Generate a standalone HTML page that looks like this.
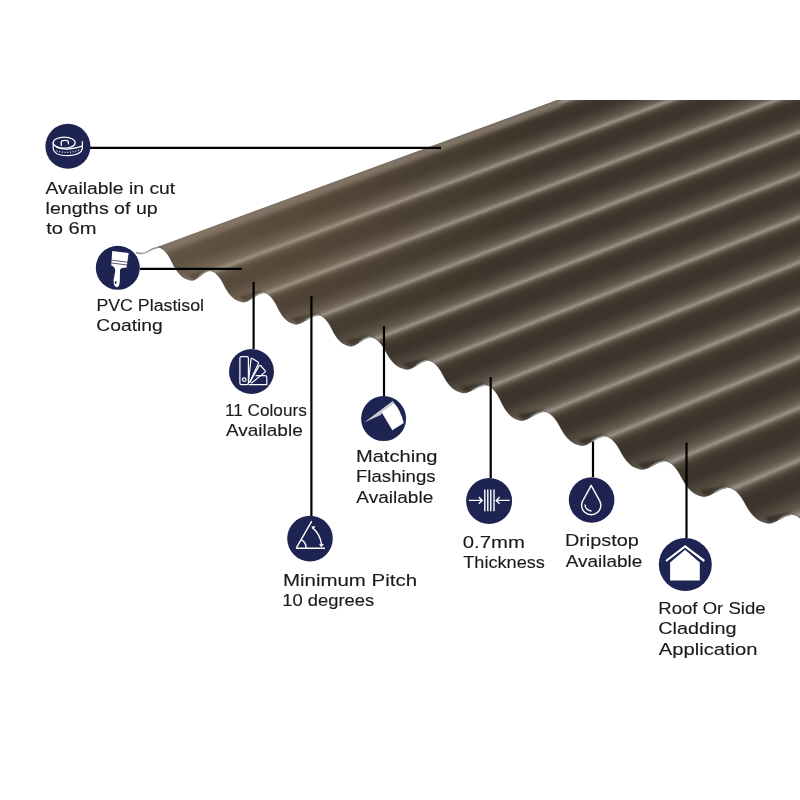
<!DOCTYPE html>
<html><head><meta charset="utf-8"><style>
html,body{margin:0;padding:0;background:#fff;width:800px;height:800px;overflow:hidden;position:relative}
#wrap{position:absolute;left:0;top:0;width:800px;height:800px;overflow:hidden;background:#3b3329}
#tex{position:absolute;left:0;top:0;width:960px;height:1000px;transform-origin:0 0;transform:matrix3d(0.837560734,0.32129766,0,-0.000170205306,1.00614586,-0.332174918,0,0.000123347537,0,0,1,0,-79.1611011,294.133936,0,1);background:repeating-linear-gradient(to right, #9b9387 4.20px, #857d72 6.00px, #696156 8.40px, #524a3f 11.40px, #433b30 16.20px, #3d352b 22.20px, #3d352b 34.20px, #463e34 41.40px, #524a3f 48.60px, #5f574c 54.60px, #6e665b 58.80px, #867e73 61.80px, #9b9387 64.20px)}
svg{position:absolute;left:0;top:0}
text{font-family:"Liberation Sans",sans-serif;font-size:16.2px;fill:#1a1a1a;stroke:#1a1a1a;stroke-width:0.12px}
</style></head><body>
<div id="wrap"><div id="tex"></div></div>
<svg width="800" height="800" viewBox="0 0 800 800">
<defs><filter id="pb" x="-20%" y="-50%" width="140%" height="200%"><feGaussianBlur stdDeviation="1.5"/></filter></defs><g filter="url(#pb)"><polygon points="192.78,280.25 193.73,279.88 194.69,279.53 195.63,279.14 196.54,278.66 197.39,278.07 198.20,277.41 199.02,276.69 199.92,275.93 200.93,275.09 202.00,274.18 203.12,273.29 204.26,272.52 205.44,271.91 206.65,271.41 207.87,270.95 209.09,270.47 208.39,268.56 186.22,274.86" fill="rgba(56,48,40,0.95)"/><polygon points="244.42,301.98 245.50,301.62 246.59,301.28 247.66,300.90 248.70,300.44 249.67,299.87 250.58,299.22 251.52,298.52 252.55,297.79 253.69,296.97 254.91,296.09 256.19,295.23 257.49,294.48 258.82,293.89 260.20,293.40 261.59,292.96 262.98,292.49 262.44,290.52 237.99,296.28" fill="rgba(56,48,40,0.95)"/><polygon points="297.27,324.14 298.44,323.78 299.63,323.45 300.79,323.07 301.92,322.61 302.97,322.05 303.97,321.42 304.98,320.72 306.10,320.00 307.34,319.20 308.67,318.32 310.05,317.47 311.47,316.73 312.91,316.15 314.41,315.67 315.92,315.23 317.43,314.77 316.99,312.77 290.87,318.29" fill="rgba(56,48,40,0.95)"/><polygon points="351.83,346.07 352.87,345.72 353.91,345.39 354.95,345.02 355.94,344.57 356.87,344.01 357.75,343.39 358.65,342.71 359.64,341.99 360.74,341.20 361.91,340.34 363.14,339.50 364.38,338.77 365.67,338.20 366.99,337.73 368.33,337.29 369.66,336.84 369.10,334.88 345.48,340.35" fill="rgba(56,48,40,0.95)"/><polygon points="408.28,369.31 409.37,368.96 410.47,368.63 411.55,368.27 412.60,367.82 413.57,367.27 414.50,366.65 415.44,365.97 416.48,365.26 417.63,364.48 418.87,363.62 420.15,362.79 421.46,362.07 422.81,361.50 424.20,361.03 425.60,360.60 427.00,360.15 426.50,358.17 401.96,363.50" fill="rgba(56,48,40,0.95)"/><polygon points="465.08,392.82 466.23,392.51 467.39,392.22 468.54,391.90 469.64,391.50 470.67,391.02 471.65,390.47 472.65,389.87 473.74,389.24 474.96,388.55 476.26,387.79 477.62,387.06 479.01,386.42 480.43,385.91 481.90,385.50 483.38,385.12 484.86,384.72 484.50,382.71 459.08,386.63" fill="rgba(56,48,40,0.95)"/><polygon points="522.68,420.46 523.89,420.12 525.10,419.79 526.30,419.43 527.45,418.99 528.53,418.44 529.55,417.83 530.59,417.16 531.74,416.46 533.02,415.68 534.38,414.84 535.80,414.01 537.25,413.30 538.74,412.73 540.27,412.27 541.83,411.84 543.37,411.40 542.98,409.39 516.37,414.49" fill="rgba(56,48,40,0.95)"/><polygon points="583.26,445.48 584.46,445.11 585.67,444.77 586.86,444.38 588.02,443.91 589.09,443.33 590.11,442.68 591.15,441.97 592.29,441.22 593.56,440.40 594.92,439.50 596.34,438.62 597.78,437.86 599.26,437.26 600.79,436.76 602.34,436.31 603.88,435.84 603.45,433.84 576.78,439.68" fill="rgba(56,48,40,0.95)"/><polygon points="643.20,469.30 644.42,468.98 645.65,468.67 646.86,468.34 648.03,467.92 649.12,467.41 650.15,466.84 651.21,466.21 652.37,465.56 653.66,464.83 655.04,464.04 656.48,463.27 657.94,462.60 659.45,462.08 661.00,461.64 662.58,461.25 664.14,460.83 663.81,458.81 637.06,463.15" fill="rgba(56,48,40,0.95)"/><polygon points="705.05,496.44 706.34,496.09 707.63,495.76 708.91,495.40 710.14,494.95 711.29,494.40 712.38,493.78 713.49,493.11 714.71,492.40 716.08,491.61 717.53,490.76 719.04,489.93 720.59,489.21 722.18,488.64 723.81,488.17 725.47,487.74 727.12,487.29 726.80,485.26 698.68,490.42" fill="rgba(56,48,40,0.95)"/><polygon points="770.03,523.24 771.26,522.90 772.50,522.58 773.73,522.22 774.92,521.79 776.02,521.25 777.06,520.65 778.13,519.99 779.30,519.30 780.61,518.54 782.00,517.70 783.45,516.89 784.94,516.19 786.46,515.63 788.03,515.18 789.62,514.76 791.20,514.32 790.85,512.30 763.75,517.21" fill="rgba(56,48,40,0.95)"/><polygon points="835.35,550.95 836.59,550.61 837.85,550.28 839.08,549.92 840.28,549.47 841.39,548.93 842.44,548.31 843.52,547.64 844.70,546.94 846.02,546.16 847.43,545.31 848.89,544.49 850.39,543.77 851.93,543.21 853.51,542.74 855.12,542.32 856.71,541.87 856.35,539.85 829.02,544.95" fill="rgba(56,48,40,0.95)"/></g><defs><radialGradient id="wg" gradientUnits="userSpaceOnUse" cx="0" cy="0" r="1" gradientTransform="translate(180 250) rotate(-21) scale(380 200)"><stop offset="0" stop-color="#a58769" stop-opacity="0.36"/><stop offset="1" stop-color="#a58769" stop-opacity="0"/></radialGradient></defs><rect x="0" y="0" width="800" height="800" fill="url(#wg)"/>
<g filter="url(#pb)"><polygon points="150,251 560,100 560,107 150,258" fill="rgba(120,107,94,0.75)"/></g>
<path fill="#fff" fill-rule="evenodd" d="M-10,-10 H810 V810 H-10 Z M157.00,247.00 L157.00,247.00 L157.97,247.21 L158.94,247.40 L159.90,247.64 L160.87,248.03 L161.84,248.58 L162.81,249.25 L163.77,250.04 L164.74,250.96 L165.73,252.04 L166.74,253.26 L167.71,254.56 L168.61,255.85 L169.41,257.12 L170.14,258.41 L170.83,259.72 L171.54,261.06 L172.23,262.42 L172.90,263.81 L173.59,265.22 L174.37,266.64 L175.24,268.10 L176.18,269.60 L177.18,271.08 L178.24,272.46 L179.38,273.75 L180.58,275.00 L181.84,276.14 L183.15,277.13 L184.57,277.98 L186.09,278.70 L187.58,279.28 L188.91,279.74 L190.01,280.06 L190.97,280.26 L191.86,280.32 L192.78,280.25 L193.74,280.03 L194.69,279.66 L195.63,279.19 L196.54,278.66 L197.39,278.07 L198.20,277.41 L199.02,276.69 L199.92,275.93 L200.93,275.09 L202.00,274.18 L203.12,273.29 L204.26,272.52 L205.44,271.91 L206.65,271.41 L207.87,270.95 L209.09,270.47 L210.05,270.67 L211.00,270.84 L211.96,271.07 L212.91,271.44 L213.87,271.97 L214.82,272.60 L215.78,273.35 L216.73,274.22 L217.71,275.24 L218.70,276.41 L219.67,277.64 L220.56,278.86 L221.34,280.06 L222.06,281.29 L222.75,282.53 L223.44,283.79 L224.13,285.08 L224.79,286.40 L225.48,287.73 L226.25,289.08 L227.11,290.47 L228.03,291.89 L229.02,293.29 L230.07,294.59 L231.19,295.82 L232.37,297.00 L233.61,298.08 L234.91,299.03 L236.31,299.83 L237.82,300.51 L239.29,301.07 L240.60,301.50 L241.67,301.81 L242.60,301.99 L243.48,302.05 L244.42,301.98 L245.47,301.76 L246.56,301.40 L247.65,300.95 L248.70,300.44 L249.67,299.87 L250.58,299.22 L251.52,298.52 L252.55,297.79 L253.69,296.97 L254.91,296.09 L256.19,295.23 L257.49,294.48 L258.82,293.89 L260.20,293.40 L261.59,292.96 L262.98,292.49 L263.91,292.69 L264.83,292.87 L265.76,293.10 L266.69,293.47 L267.62,294.00 L268.54,294.63 L269.47,295.39 L270.40,296.26 L271.35,297.28 L272.31,298.45 L273.24,299.69 L274.11,300.92 L274.87,302.13 L275.57,303.35 L276.24,304.60 L276.91,305.87 L277.57,307.17 L278.21,308.49 L278.88,309.83 L279.63,311.18 L280.47,312.58 L281.36,314.01 L282.32,315.41 L283.34,316.72 L284.43,317.96 L285.58,319.14 L286.78,320.22 L288.04,321.17 L289.40,321.98 L290.86,322.66 L292.29,323.22 L293.56,323.66 L294.59,323.96 L295.47,324.15 L296.32,324.21 L297.27,324.14 L298.38,323.93 L299.57,323.57 L300.77,323.12 L301.92,322.61 L302.97,322.05 L303.97,321.42 L304.98,320.72 L306.10,320.00 L307.34,319.20 L308.67,318.32 L310.05,317.47 L311.47,316.73 L312.91,316.15 L314.41,315.67 L315.92,315.23 L317.43,314.77 L318.36,314.97 L319.29,315.14 L320.22,315.37 L321.15,315.74 L322.08,316.26 L323.01,316.89 L323.94,317.64 L324.87,318.50 L325.82,319.51 L326.79,320.67 L327.73,321.89 L328.59,323.10 L329.36,324.30 L330.06,325.51 L330.73,326.75 L331.40,328.00 L332.07,329.29 L332.71,330.59 L333.38,331.92 L334.13,333.26 L334.97,334.64 L335.87,336.05 L336.83,337.44 L337.86,338.73 L338.94,339.96 L340.10,341.12 L341.31,342.20 L342.57,343.14 L343.94,343.93 L345.40,344.61 L346.83,345.16 L348.11,345.59 L349.16,345.90 L350.06,346.08 L350.91,346.14 L351.83,346.07 L352.84,345.86 L353.89,345.51 L354.94,345.06 L355.94,344.57 L356.87,344.01 L357.75,343.39 L358.65,342.71 L359.64,341.99 L360.74,341.20 L361.91,340.34 L363.14,339.50 L364.38,338.77 L365.67,338.20 L366.99,337.73 L368.33,337.29 L369.66,336.84 L370.70,337.05 L371.75,337.23 L372.79,337.46 L373.84,337.84 L374.88,338.38 L375.93,339.04 L376.97,339.81 L378.02,340.71 L379.08,341.76 L380.17,342.96 L381.22,344.22 L382.19,345.49 L383.06,346.73 L383.84,347.99 L384.59,349.27 L385.35,350.57 L386.10,351.90 L386.82,353.26 L387.57,354.63 L388.41,356.02 L389.35,357.45 L390.36,358.91 L391.44,360.35 L392.59,361.70 L393.81,362.97 L395.11,364.18 L396.47,365.29 L397.88,366.27 L399.42,367.09 L401.06,367.79 L402.67,368.37 L404.10,368.81 L405.29,369.13 L406.31,369.31 L407.27,369.37 L408.28,369.31 L409.36,369.10 L410.46,368.76 L411.55,368.31 L412.60,367.82 L413.57,367.27 L414.50,366.65 L415.44,365.97 L416.48,365.26 L417.63,364.48 L418.87,363.62 L420.15,362.79 L421.46,362.07 L422.81,361.50 L424.20,361.03 L425.60,360.60 L427.00,360.15 L428.03,360.36 L429.06,360.54 L430.09,360.78 L431.12,361.16 L432.15,361.70 L433.18,362.36 L434.21,363.14 L435.24,364.04 L436.29,365.10 L437.36,366.30 L438.40,367.58 L439.36,368.85 L440.21,370.10 L440.98,371.36 L441.72,372.65 L442.47,373.96 L443.21,375.30 L443.92,376.67 L444.66,378.05 L445.49,379.45 L446.42,380.88 L447.41,382.36 L448.48,383.81 L449.61,385.16 L450.82,386.44 L452.09,387.66 L453.43,388.78 L454.83,389.76 L456.34,390.59 L457.96,391.29 L459.55,391.87 L460.96,392.32 L462.12,392.63 L463.12,392.81 L464.07,392.87 L465.08,392.82 L466.20,392.64 L467.36,392.33 L468.53,391.94 L469.64,391.50 L470.67,391.02 L471.65,390.47 L472.65,389.87 L473.74,389.24 L474.96,388.55 L476.26,387.79 L477.62,387.06 L479.01,386.42 L480.43,385.91 L481.90,385.50 L483.38,385.12 L484.86,384.72 L485.88,384.95 L486.91,385.15 L487.93,385.41 L488.95,385.83 L489.97,386.42 L491.00,387.14 L492.02,387.99 L493.04,388.98 L494.09,390.13 L495.15,391.45 L496.18,392.85 L497.13,394.24 L497.98,395.60 L498.75,396.99 L499.48,398.40 L500.22,399.83 L500.96,401.30 L501.66,402.79 L502.40,404.30 L503.22,405.83 L504.15,407.40 L505.13,409.02 L506.19,410.60 L507.32,412.08 L508.51,413.48 L509.78,414.81 L511.11,416.04 L512.50,417.11 L514.00,418.02 L515.61,418.79 L517.19,419.42 L518.59,419.91 L519.74,420.26 L520.72,420.45 L521.66,420.52 L522.68,420.46 L523.84,420.26 L525.06,419.91 L526.28,419.48 L527.45,418.99 L528.53,418.44 L529.55,417.83 L530.59,417.16 L531.74,416.46 L533.02,415.68 L534.38,414.84 L535.80,414.01 L537.25,413.30 L538.74,412.73 L540.27,412.27 L541.83,411.84 L543.37,411.40 L544.45,411.62 L545.53,411.81 L546.61,412.05 L547.69,412.45 L548.76,413.02 L549.84,413.71 L550.92,414.52 L552.00,415.46 L553.10,416.56 L554.22,417.82 L555.31,419.15 L556.32,420.47 L557.21,421.78 L558.02,423.10 L558.79,424.44 L559.58,425.81 L560.35,427.21 L561.09,428.63 L561.87,430.07 L562.74,431.53 L563.71,433.03 L564.75,434.57 L565.87,436.08 L567.05,437.49 L568.32,438.82 L569.66,440.09 L571.06,441.26 L572.52,442.28 L574.11,443.15 L575.80,443.89 L577.46,444.49 L578.94,444.96 L580.16,445.29 L581.21,445.48 L582.20,445.55 L583.26,445.48 L584.43,445.26 L585.64,444.90 L586.85,444.43 L588.02,443.91 L589.09,443.33 L590.11,442.68 L591.15,441.97 L592.29,441.22 L593.56,440.40 L594.92,439.50 L596.34,438.62 L597.78,437.86 L599.26,437.26 L600.79,436.76 L602.34,436.31 L603.88,435.84 L604.94,436.05 L606.01,436.24 L607.07,436.48 L608.13,436.88 L609.20,437.43 L610.26,438.11 L611.32,438.90 L612.39,439.82 L613.47,440.91 L614.58,442.14 L615.65,443.45 L616.64,444.75 L617.52,446.03 L618.32,447.32 L619.08,448.64 L619.85,449.99 L620.61,451.36 L621.35,452.76 L622.12,454.17 L622.97,455.60 L623.93,457.08 L624.96,458.59 L626.06,460.07 L627.23,461.46 L628.47,462.76 L629.79,464.01 L631.17,465.16 L632.61,466.16 L634.18,467.02 L635.85,467.74 L637.49,468.33 L638.95,468.79 L640.14,469.11 L641.17,469.29 L642.14,469.35 L643.20,469.30 L644.38,469.11 L645.61,468.79 L646.85,468.38 L648.03,467.92 L649.12,467.41 L650.15,466.84 L651.21,466.21 L652.37,465.56 L653.66,464.83 L655.04,464.04 L656.48,463.27 L657.94,462.60 L659.45,462.08 L661.00,461.64 L662.58,461.25 L664.14,460.83 L665.25,461.06 L666.35,461.25 L667.46,461.51 L668.57,461.93 L669.67,462.52 L670.78,463.24 L671.88,464.09 L672.99,465.07 L674.12,466.22 L675.27,467.54 L676.39,468.93 L677.42,470.31 L678.33,471.67 L679.16,473.05 L679.96,474.46 L680.76,475.89 L681.55,477.35 L682.31,478.83 L683.11,480.34 L684.00,481.86 L685.00,483.43 L686.07,485.04 L687.21,486.62 L688.43,488.09 L689.73,489.48 L691.10,490.81 L692.54,492.03 L694.04,493.10 L695.66,494.01 L697.40,494.78 L699.11,495.41 L700.62,495.89 L701.87,496.24 L702.93,496.44 L703.95,496.50 L705.05,496.44 L706.29,496.24 L707.59,495.89 L708.89,495.45 L710.14,494.95 L711.29,494.40 L712.38,493.78 L713.49,493.11 L714.71,492.40 L716.08,491.61 L717.53,490.76 L719.04,489.93 L720.59,489.21 L722.18,488.64 L723.81,488.17 L725.47,487.74 L727.12,487.29 L728.28,487.52 L729.44,487.72 L730.60,487.98 L731.76,488.40 L732.92,489.00 L734.08,489.73 L735.24,490.58 L736.40,491.57 L737.59,492.74 L738.80,494.06 L739.96,495.47 L741.05,496.86 L742.00,498.24 L742.88,499.63 L743.71,501.05 L744.55,502.49 L745.38,503.96 L746.18,505.47 L747.02,506.99 L747.96,508.52 L749.00,510.11 L750.12,511.73 L751.32,513.32 L752.60,514.81 L753.96,516.22 L755.40,517.56 L756.91,518.79 L758.48,519.87 L760.19,520.79 L762.01,521.56 L763.80,522.20 L765.39,522.69 L766.70,523.03 L767.84,523.23 L768.91,523.30 L770.03,523.24 L771.25,523.04 L772.49,522.70 L773.72,522.27 L774.92,521.79 L776.02,521.25 L777.06,520.65 L778.13,519.99 L779.30,519.30 L780.61,518.54 L782.00,517.70 L783.45,516.89 L784.94,516.19 L786.46,515.63 L788.03,515.18 L789.62,514.76 L791.20,514.32 L792.39,514.55 L793.59,514.76 L794.78,515.02 L795.98,515.45 L797.17,516.06 L798.36,516.80 L799.56,517.67 L800.75,518.68 L801.97,519.87 L803.21,521.22 L804.42,522.65 L805.53,524.07 L806.51,525.47 L807.41,526.89 L808.27,528.34 L809.14,529.81 L809.99,531.31 L810.81,532.84 L811.68,534.39 L812.64,535.95 L813.71,537.57 L814.87,539.22 L816.10,540.84 L817.41,542.36 L818.81,543.79 L820.29,545.16 L821.85,546.42 L823.46,547.52 L825.22,548.45 L827.10,549.24 L828.94,549.89 L830.57,550.39 L831.93,550.74 L833.10,550.94 L834.20,551.01 L835.35,550.95 L836.58,550.75 L837.84,550.40 L839.08,549.96 L840.28,549.47 L841.39,548.93 L842.44,548.31 L843.52,547.64 L844.70,546.94 L845.00,566.94 L845.00,100.00 L557.00,100.00 Z"/>
<path d="M157.00,247.00 L157.97,247.21 L158.94,247.40 L159.90,247.64 L160.87,248.03 L161.84,248.58 L162.81,249.25 L163.77,250.04 L164.74,250.96 L165.73,252.04 L166.74,253.26 L167.71,254.56 L168.61,255.85 L169.41,257.12 L170.14,258.41 L170.83,259.72 L171.54,261.06 L172.23,262.42 L172.90,263.81 L173.59,265.22 L174.37,266.64 L175.24,268.10 L176.18,269.60 L177.18,271.08 L178.24,272.46 L179.38,273.75 L180.58,275.00 L181.84,276.14 L183.15,277.13 L184.57,277.98 L186.09,278.70 L187.58,279.28 L188.91,279.74 L190.01,280.06 L190.97,280.26 L191.86,280.32 L192.78,280.25 L193.74,280.03 L194.69,279.66 L195.63,279.19 L196.54,278.66 L197.39,278.07 L198.20,277.41 L199.02,276.69 L199.92,275.93 L200.93,275.09 L202.00,274.18 L203.12,273.29 L204.26,272.52 L205.44,271.91 L206.65,271.41 L207.87,270.95 L209.09,270.47 L210.05,270.67 L211.00,270.84 L211.96,271.07 L212.91,271.44 L213.87,271.97 L214.82,272.60 L215.78,273.35 L216.73,274.22 L217.71,275.24 L218.70,276.41 L219.67,277.64 L220.56,278.86 L221.34,280.06 L222.06,281.29 L222.75,282.53 L223.44,283.79 L224.13,285.08 L224.79,286.40 L225.48,287.73 L226.25,289.08 L227.11,290.47 L228.03,291.89 L229.02,293.29 L230.07,294.59 L231.19,295.82 L232.37,297.00 L233.61,298.08 L234.91,299.03 L236.31,299.83 L237.82,300.51 L239.29,301.07 L240.60,301.50 L241.67,301.81 L242.60,301.99 L243.48,302.05 L244.42,301.98 L245.47,301.76 L246.56,301.40 L247.65,300.95 L248.70,300.44 L249.67,299.87 L250.58,299.22 L251.52,298.52 L252.55,297.79 L253.69,296.97 L254.91,296.09 L256.19,295.23 L257.49,294.48 L258.82,293.89 L260.20,293.40 L261.59,292.96 L262.98,292.49 L263.91,292.69 L264.83,292.87 L265.76,293.10 L266.69,293.47 L267.62,294.00 L268.54,294.63 L269.47,295.39 L270.40,296.26 L271.35,297.28 L272.31,298.45 L273.24,299.69 L274.11,300.92 L274.87,302.13 L275.57,303.35 L276.24,304.60 L276.91,305.87 L277.57,307.17 L278.21,308.49 L278.88,309.83 L279.63,311.18 L280.47,312.58 L281.36,314.01 L282.32,315.41 L283.34,316.72 L284.43,317.96 L285.58,319.14 L286.78,320.22 L288.04,321.17 L289.40,321.98 L290.86,322.66 L292.29,323.22 L293.56,323.66 L294.59,323.96 L295.47,324.15 L296.32,324.21 L297.27,324.14 L298.38,323.93 L299.57,323.57 L300.77,323.12 L301.92,322.61 L302.97,322.05 L303.97,321.42 L304.98,320.72 L306.10,320.00 L307.34,319.20 L308.67,318.32 L310.05,317.47 L311.47,316.73 L312.91,316.15 L314.41,315.67 L315.92,315.23 L317.43,314.77 L318.36,314.97 L319.29,315.14 L320.22,315.37 L321.15,315.74 L322.08,316.26 L323.01,316.89 L323.94,317.64 L324.87,318.50 L325.82,319.51 L326.79,320.67 L327.73,321.89 L328.59,323.10 L329.36,324.30 L330.06,325.51 L330.73,326.75 L331.40,328.00 L332.07,329.29 L332.71,330.59 L333.38,331.92 L334.13,333.26 L334.97,334.64 L335.87,336.05 L336.83,337.44 L337.86,338.73 L338.94,339.96 L340.10,341.12 L341.31,342.20 L342.57,343.14 L343.94,343.93 L345.40,344.61 L346.83,345.16 L348.11,345.59 L349.16,345.90 L350.06,346.08 L350.91,346.14 L351.83,346.07 L352.84,345.86 L353.89,345.51 L354.94,345.06 L355.94,344.57 L356.87,344.01 L357.75,343.39 L358.65,342.71 L359.64,341.99 L360.74,341.20 L361.91,340.34 L363.14,339.50 L364.38,338.77 L365.67,338.20 L366.99,337.73 L368.33,337.29 L369.66,336.84 L370.70,337.05 L371.75,337.23 L372.79,337.46 L373.84,337.84 L374.88,338.38 L375.93,339.04 L376.97,339.81 L378.02,340.71 L379.08,341.76 L380.17,342.96 L381.22,344.22 L382.19,345.49 L383.06,346.73 L383.84,347.99 L384.59,349.27 L385.35,350.57 L386.10,351.90 L386.82,353.26 L387.57,354.63 L388.41,356.02 L389.35,357.45 L390.36,358.91 L391.44,360.35 L392.59,361.70 L393.81,362.97 L395.11,364.18 L396.47,365.29 L397.88,366.27 L399.42,367.09 L401.06,367.79 L402.67,368.37 L404.10,368.81 L405.29,369.13 L406.31,369.31 L407.27,369.37 L408.28,369.31 L409.36,369.10 L410.46,368.76 L411.55,368.31 L412.60,367.82 L413.57,367.27 L414.50,366.65 L415.44,365.97 L416.48,365.26 L417.63,364.48 L418.87,363.62 L420.15,362.79 L421.46,362.07 L422.81,361.50 L424.20,361.03 L425.60,360.60 L427.00,360.15 L428.03,360.36 L429.06,360.54 L430.09,360.78 L431.12,361.16 L432.15,361.70 L433.18,362.36 L434.21,363.14 L435.24,364.04 L436.29,365.10 L437.36,366.30 L438.40,367.58 L439.36,368.85 L440.21,370.10 L440.98,371.36 L441.72,372.65 L442.47,373.96 L443.21,375.30 L443.92,376.67 L444.66,378.05 L445.49,379.45 L446.42,380.88 L447.41,382.36 L448.48,383.81 L449.61,385.16 L450.82,386.44 L452.09,387.66 L453.43,388.78 L454.83,389.76 L456.34,390.59 L457.96,391.29 L459.55,391.87 L460.96,392.32 L462.12,392.63 L463.12,392.81 L464.07,392.87 L465.08,392.82 L466.20,392.64 L467.36,392.33 L468.53,391.94 L469.64,391.50 L470.67,391.02 L471.65,390.47 L472.65,389.87 L473.74,389.24 L474.96,388.55 L476.26,387.79 L477.62,387.06 L479.01,386.42 L480.43,385.91 L481.90,385.50 L483.38,385.12 L484.86,384.72 L485.88,384.95 L486.91,385.15 L487.93,385.41 L488.95,385.83 L489.97,386.42 L491.00,387.14 L492.02,387.99 L493.04,388.98 L494.09,390.13 L495.15,391.45 L496.18,392.85 L497.13,394.24 L497.98,395.60 L498.75,396.99 L499.48,398.40 L500.22,399.83 L500.96,401.30 L501.66,402.79 L502.40,404.30 L503.22,405.83 L504.15,407.40 L505.13,409.02 L506.19,410.60 L507.32,412.08 L508.51,413.48 L509.78,414.81 L511.11,416.04 L512.50,417.11 L514.00,418.02 L515.61,418.79 L517.19,419.42 L518.59,419.91 L519.74,420.26 L520.72,420.45 L521.66,420.52 L522.68,420.46 L523.84,420.26 L525.06,419.91 L526.28,419.48 L527.45,418.99 L528.53,418.44 L529.55,417.83 L530.59,417.16 L531.74,416.46 L533.02,415.68 L534.38,414.84 L535.80,414.01 L537.25,413.30 L538.74,412.73 L540.27,412.27 L541.83,411.84 L543.37,411.40 L544.45,411.62 L545.53,411.81 L546.61,412.05 L547.69,412.45 L548.76,413.02 L549.84,413.71 L550.92,414.52 L552.00,415.46 L553.10,416.56 L554.22,417.82 L555.31,419.15 L556.32,420.47 L557.21,421.78 L558.02,423.10 L558.79,424.44 L559.58,425.81 L560.35,427.21 L561.09,428.63 L561.87,430.07 L562.74,431.53 L563.71,433.03 L564.75,434.57 L565.87,436.08 L567.05,437.49 L568.32,438.82 L569.66,440.09 L571.06,441.26 L572.52,442.28 L574.11,443.15 L575.80,443.89 L577.46,444.49 L578.94,444.96 L580.16,445.29 L581.21,445.48 L582.20,445.55 L583.26,445.48 L584.43,445.26 L585.64,444.90 L586.85,444.43 L588.02,443.91 L589.09,443.33 L590.11,442.68 L591.15,441.97 L592.29,441.22 L593.56,440.40 L594.92,439.50 L596.34,438.62 L597.78,437.86 L599.26,437.26 L600.79,436.76 L602.34,436.31 L603.88,435.84 L604.94,436.05 L606.01,436.24 L607.07,436.48 L608.13,436.88 L609.20,437.43 L610.26,438.11 L611.32,438.90 L612.39,439.82 L613.47,440.91 L614.58,442.14 L615.65,443.45 L616.64,444.75 L617.52,446.03 L618.32,447.32 L619.08,448.64 L619.85,449.99 L620.61,451.36 L621.35,452.76 L622.12,454.17 L622.97,455.60 L623.93,457.08 L624.96,458.59 L626.06,460.07 L627.23,461.46 L628.47,462.76 L629.79,464.01 L631.17,465.16 L632.61,466.16 L634.18,467.02 L635.85,467.74 L637.49,468.33 L638.95,468.79 L640.14,469.11 L641.17,469.29 L642.14,469.35 L643.20,469.30 L644.38,469.11 L645.61,468.79 L646.85,468.38 L648.03,467.92 L649.12,467.41 L650.15,466.84 L651.21,466.21 L652.37,465.56 L653.66,464.83 L655.04,464.04 L656.48,463.27 L657.94,462.60 L659.45,462.08 L661.00,461.64 L662.58,461.25 L664.14,460.83 L665.25,461.06 L666.35,461.25 L667.46,461.51 L668.57,461.93 L669.67,462.52 L670.78,463.24 L671.88,464.09 L672.99,465.07 L674.12,466.22 L675.27,467.54 L676.39,468.93 L677.42,470.31 L678.33,471.67 L679.16,473.05 L679.96,474.46 L680.76,475.89 L681.55,477.35 L682.31,478.83 L683.11,480.34 L684.00,481.86 L685.00,483.43 L686.07,485.04 L687.21,486.62 L688.43,488.09 L689.73,489.48 L691.10,490.81 L692.54,492.03 L694.04,493.10 L695.66,494.01 L697.40,494.78 L699.11,495.41 L700.62,495.89 L701.87,496.24 L702.93,496.44 L703.95,496.50 L705.05,496.44 L706.29,496.24 L707.59,495.89 L708.89,495.45 L710.14,494.95 L711.29,494.40 L712.38,493.78 L713.49,493.11 L714.71,492.40 L716.08,491.61 L717.53,490.76 L719.04,489.93 L720.59,489.21 L722.18,488.64 L723.81,488.17 L725.47,487.74 L727.12,487.29 L728.28,487.52 L729.44,487.72 L730.60,487.98 L731.76,488.40 L732.92,489.00 L734.08,489.73 L735.24,490.58 L736.40,491.57 L737.59,492.74 L738.80,494.06 L739.96,495.47 L741.05,496.86 L742.00,498.24 L742.88,499.63 L743.71,501.05 L744.55,502.49 L745.38,503.96 L746.18,505.47 L747.02,506.99 L747.96,508.52 L749.00,510.11 L750.12,511.73 L751.32,513.32 L752.60,514.81 L753.96,516.22 L755.40,517.56 L756.91,518.79 L758.48,519.87 L760.19,520.79 L762.01,521.56 L763.80,522.20 L765.39,522.69 L766.70,523.03 L767.84,523.23 L768.91,523.30 L770.03,523.24 L771.25,523.04 L772.49,522.70 L773.72,522.27 L774.92,521.79 L776.02,521.25 L777.06,520.65 L778.13,519.99 L779.30,519.30 L780.61,518.54 L782.00,517.70 L783.45,516.89 L784.94,516.19 L786.46,515.63 L788.03,515.18 L789.62,514.76 L791.20,514.32 L792.39,514.55 L793.59,514.76 L794.78,515.02 L795.98,515.45 L797.17,516.06 L798.36,516.80 L799.56,517.67 L800.75,518.68 L801.97,519.87 L803.21,521.22 L804.42,522.65 L805.53,524.07 L806.51,525.47 L807.41,526.89 L808.27,528.34 L809.14,529.81 L809.99,531.31 L810.81,532.84 L811.68,534.39 L812.64,535.95 L813.71,537.57 L814.87,539.22 L816.10,540.84 L817.41,542.36 L818.81,543.79 L820.29,545.16 L821.85,546.42 L823.46,547.52 L825.22,548.45 L827.10,549.24 L828.94,549.89 L830.57,550.39 L831.93,550.74 L833.10,550.94 L834.20,551.01 L835.35,550.95 L836.58,550.75 L837.84,550.40 L839.08,549.96 L840.28,549.47 L841.39,548.93 L842.44,548.31 L843.52,547.64 L844.70,546.94" fill="none" stroke="rgba(40,34,28,0.55)" stroke-width="0.9"/>
<path d="M199.92,275.93 L200.93,275.09 L202.00,274.18 L203.12,273.29 L204.26,272.52 L205.44,271.91 L206.65,271.41 L207.87,270.95 L209.09,270.47 M252.55,297.79 L253.69,296.97 L254.91,296.09 L256.19,295.23 L257.49,294.48 L258.82,293.89 L260.20,293.40 L261.59,292.96 L262.98,292.49 M306.10,320.00 L307.34,319.20 L308.67,318.32 L310.05,317.47 L311.47,316.73 L312.91,316.15 L314.41,315.67 L315.92,315.23 L317.43,314.77 M359.64,341.99 L360.74,341.20 L361.91,340.34 L363.14,339.50 L364.38,338.77 L365.67,338.20 L366.99,337.73 L368.33,337.29 L369.66,336.84 M416.48,365.26 L417.63,364.48 L418.87,363.62 L420.15,362.79 L421.46,362.07 L422.81,361.50 L424.20,361.03 L425.60,360.60 L427.00,360.15 M473.74,389.24 L474.96,388.55 L476.26,387.79 L477.62,387.06 L479.01,386.42 L480.43,385.91 L481.90,385.50 L483.38,385.12 L484.86,384.72 M531.74,416.46 L533.02,415.68 L534.38,414.84 L535.80,414.01 L537.25,413.30 L538.74,412.73 L540.27,412.27 L541.83,411.84 L543.37,411.40 M592.29,441.22 L593.56,440.40 L594.92,439.50 L596.34,438.62 L597.78,437.86 L599.26,437.26 L600.79,436.76 L602.34,436.31 L603.88,435.84 M652.37,465.56 L653.66,464.83 L655.04,464.04 L656.48,463.27 L657.94,462.60 L659.45,462.08 L661.00,461.64 L662.58,461.25 L664.14,460.83 M714.71,492.40 L716.08,491.61 L717.53,490.76 L719.04,489.93 L720.59,489.21 L722.18,488.64 L723.81,488.17 L725.47,487.74 L727.12,487.29 M779.30,519.30 L780.61,518.54 L782.00,517.70 L783.45,516.89 L784.94,516.19 L786.46,515.63 L788.03,515.18 L789.62,514.76 L791.20,514.32 M844.70,546.94 L846.02,546.16 L847.43,545.31 L848.89,544.49 L850.39,543.77 L851.93,543.21 L853.51,542.74 L855.12,542.32 L856.71,541.87" fill="none" stroke="#8f918d" stroke-width="1.5" stroke-linecap="round"/>
<path d="M136 252.5 Q142 255 148 251.5 Q153 248 157.5 247.5" fill="none" stroke="#8f918d" stroke-width="1.4"/>
<g stroke="#000" stroke-width="2.2" fill="none"><path d="M90 147.9 H441"/><path d="M140 268.9 H242"/><path d="M253.6 282 V349"/><path d="M311.4 296 V516"/><path d="M384 326 V396"/><path d="M490.7 377 V478"/><path d="M593 441.5 V477"/><path d="M686.5 442.6 V538"/></g>
<circle cx="67.9" cy="146.3" r="22.5" fill="#1d2452"/><g fill="none" stroke="#fff" stroke-width="1.25" stroke-linejoin="round" stroke-linecap="round"><ellipse cx="64.2" cy="142.7" rx="11" ry="5.5"/><path d="M53.2 142.7 V148.2 Q54 155.6 67.8 155.6 Q81.6 155.2 82.4 148 V141.6"/><path d="M56.5 147.1 Q66 151.4 82.2 146.2"/><path d="M61.3 145.4 V142 Q61.3 140.4 64.8 140.4 Q68.4 140.4 68.4 142 V143.8"/></g><path d="M57 150.2 v1.3 M59.7 151 v1.3 M62.4 151.5 v1.3 M65.1 151.7 v1.3 M67.8 151.7 v1.3 M70.5 151.5 v1.3 M73.2 151.1 v1.3 M75.9 150.5 v1.3 M78.6 149.6 v1.3" stroke="#fff" stroke-width="0.9"/><circle cx="117.8" cy="267.8" r="22" fill="#1d2452"/><path fill="#fff" d="M112.2 250.9 L128.7 252.9 L126.6 267.6 Q121 267.6 120 270 L119.8 281 Q119.5 287.5 116.5 287.2 Q113.3 286.5 113.6 280 L115.3 271 Q115 266.2 111.3 265.4 Z"/><path d="M111.9 260.2 L127.6 262.2 M111.6 263 L127.2 265" stroke="#1d2452" stroke-width="0.75"/><ellipse cx="115.7" cy="282.6" rx="0.9" ry="1.4" fill="#1d2452"/><circle cx="251.5" cy="371.5" r="22.5" fill="#1d2452"/><g fill="none" stroke="#fff" stroke-width="1.2" stroke-linejoin="round"><rect x="239.9" y="356.6" width="8.5" height="28.1" rx="1.6"/><circle cx="244.2" cy="379.6" r="1.8"/><path d="M248.6 380.9 L251.0 358.9 Q251.5 358.0 252.4 358.5 L258.0 362.1 Q258.9 362.8 258.4 363.6 L249.5 382.7"/><path d="M249.7 382.4 L259.1 365.9 Q259.7 365.0 260.6 365.5 L265.0 370.6 Q265.7 371.5 265.0 372.1 L251.2 383.3"/><path d="M248.6 384.7 H266.8 V377.4 Q266.8 375.6 265.0 375.6 H255.6"/></g><circle cx="383.6" cy="418.6" r="22.5" fill="#1d2452"/><polygon fill="#c9cacf" points="364.11,422.61 392.61,400.88 394.08,402.34 382.03,412.04 381.15,414.68"/><path fill="#fff" d="M381.45 412.04 L393.78 402.64 Q400.54 409.69 403.77 423.08 L392.31 430.25 Z"/><circle cx="310" cy="538.6" r="22.8" fill="#1d2452"/><g fill="none" stroke="#fff" stroke-width="1.4"><path d="M296.2 548.2 H325 M296.2 548.2 L311.8 521.2"/><path d="M301.2 539.6 A10 10 0 0 1 306.2 548.2"/><path d="M312.3 527.5 A26 26 0 0 1 321.5 544.5"/></g><path fill="#fff" d="M311.3 526.5 L315.5 526.3 L313.2 529.5 Z M319 544.3 L324 544 L321.3 547.3 Z"/><circle cx="489.1" cy="501.1" r="23" fill="#1d2452"/><g stroke="#fff" stroke-width="1.4" fill="none"><path d="M484.8 489.6 V511.2 M487.8 489.6 V511.2 M490.8 489.6 V511.2 M494 489.6 V511.2"/><path d="M468.9 500.4 H482 M478.8 497 L482.2 500.4 L478.8 503.8"/><path d="M509.7 500.4 H496.4 M499.6 497 L496.2 500.4 L499.6 503.8"/></g><circle cx="591.6" cy="500" r="22.8" fill="#1d2452"/><g stroke="#fff" stroke-width="1.4" fill="none"><path d="M591.2 485.3 L583.4 499.6 A9.6 9.6 0 1 0 599 499.6 Z" stroke-linejoin="round"/><path d="M585 504.5 A6.5 6.5 0 0 0 591.5 511"/></g><circle cx="685.3" cy="564.4" r="26.5" fill="#1d2452"/><path d="M666 561 L685.1 546.4 L704.3 561" fill="none" stroke="#fff" stroke-width="2.2"/><polygon fill="#fff" points="670.1,562.5 670.1,580.5 699.8,580.5 699.8,562.5 685.1,549.8"/>
<g><text transform="translate(45.50,193.80) scale(1.1940,1)">Available in cut</text><text transform="translate(45.53,213.50) scale(1.2093,1)">lengths of up</text><text transform="translate(46.20,234.00) scale(1.2422,1)">to 6m</text><text transform="translate(96.38,311.10) scale(1.0977,1)">PVC Plastisol</text><text transform="translate(96.34,331.40) scale(1.1901,1)">Coating</text><text transform="translate(224.96,415.90) scale(1.0620,1)">11 Colours</text><text transform="translate(226.00,436.10) scale(1.1728,1)">Available</text><text transform="translate(355.89,462.25) scale(1.2433,1)">Matching</text><text transform="translate(356.01,482.25) scale(1.1486,1)">Flashings</text><text transform="translate(356.25,503.10) scale(1.1782,1)">Available</text><text transform="translate(282.96,586.00) scale(1.2635,1)">Minimum Pitch</text><text transform="translate(282.22,606.25) scale(1.1349,1)">10 degrees</text><text transform="translate(462.79,547.50) scale(1.2534,1)">0.7mm</text><text transform="translate(463.24,567.90) scale(1.1200,1)">Thickness</text><text transform="translate(564.91,546.10) scale(1.2243,1)">Dripstop</text><text transform="translate(565.75,566.75) scale(1.1704,1)">Available</text><text transform="translate(658.31,614.45) scale(1.1462,1)">Roof Or Side</text><text transform="translate(658.21,634.25) scale(1.2257,1)">Cladding</text><text transform="translate(658.75,654.50) scale(1.2474,1)">Application</text></g>
</svg>
</body></html>
